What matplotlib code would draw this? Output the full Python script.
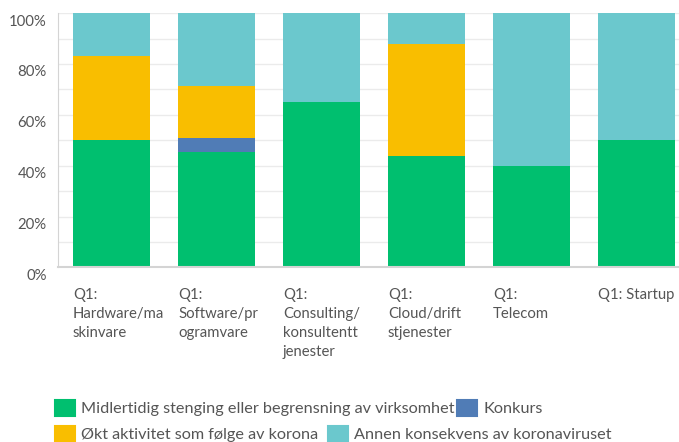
import matplotlib
matplotlib.use("Agg")
import matplotlib.pyplot as plt
import matplotlib.transforms as mtransforms
from matplotlib.patches import Patch
import numpy as np

# data (percent)
categories = [
    "Q1:\nHardware/ma\nskinvare",
    "Q1:\nSoftware/pr\nogramvare",
    "Q1:\nConsulting/\nkonsultentt\njenester",
    "Q1:\nCloud/drift\nstjenester",
    "Q1:\nTelecom",
    "Q1: Startup",
]
series_names = [
    "Midlertidig stenging eller begrensning av virksomhet",
    "Konkurs",
    "Økt aktivitet som følge av korona",
    "Annen konsekvens av koronaviruset",
]
midlertidig = [50.0, 45.5, 65.0, 44.0, 40.0, 50.0]
konkurs = [0.0, 5.5, 0.0, 0.0, 0.0, 0.0]
okt_aktivitet = [33.3, 20.5, 0.0, 44.0, 0.0, 0.0]
annen = [16.7, 28.5, 35.0, 12.0, 60.0, 50.0]
colors = ["#00BF6F", "#507CB6", "#F9BE00", "#6BC8CD"]

plt.rcParams["font.family"] = ["Lato", "DejaVu Sans"]
text_col = "#555555"

fig = plt.figure(figsize=(6.79, 4.42), dpi=100)
ax = fig.add_axes([0.085, 0.395, 0.915, 0.5754])

x = np.arange(len(categories))
width = 0.733
bottom = np.zeros(len(categories))
for vals, col in zip([midlertidig, konkurs, okt_aktivitet, annen], colors):
    vals = np.array(vals)
    ax.bar(x, vals, width, bottom=bottom, color=col, zorder=2)
    bottom += vals

ax.set_xlim(-0.512, 5.405)
ax.set_ylim(0, 100)
ax.set_yticks(np.arange(0, 101, 10), minor=True)
ax.set_yticks(np.arange(0, 101, 20))
ax.set_yticklabels([f"{v}%" for v in range(0, 101, 20)], fontsize=10.7, color=text_col)
ax.grid(axis="y", which="both", color="#ebebeb", linewidth=1, zorder=0)
ax.tick_params(axis="y", which="both", length=0, pad=8)
# y labels sit a little below their grid line
shift = mtransforms.ScaledTranslation(0, -7 / 100, fig.dpi_scale_trans)
for lab in ax.get_yticklabels():
    lab.set_transform(lab.get_transform() + shift)

ax.set_xticks(x - width / 2)
ax.set_xticklabels(categories, fontsize=10.7, color=text_col, ha="left",
                   va="top", linespacing=1.45)
ax.tick_params(axis="x", length=0, pad=15)

for s in ["top", "right"]:
    ax.spines[s].set_visible(False)
ax.spines["left"].set_color("#d4d4d4")
ax.spines["bottom"].set_color("#d4d4d4")
ax.spines["bottom"].set_linewidth(1.5)

# legend, two flowing rows
leg_kw = dict(frameon=False, ncol=2, fontsize=11.7, handlelength=1.23,
              handleheight=1.23, handletextpad=0.37,
              borderpad=0, borderaxespad=0, labelcolor=text_col)
h = [Patch(facecolor=c, edgecolor=c, linewidth=1.5, joinstyle="round") for c in colors]
fig.legend(h[:2], series_names[:2], loc="center left", columnspacing=0.18,
           bbox_to_anchor=(55 / 679, 1 - 408 / 442), **leg_kw)
fig.legend(h[2:], series_names[2:], loc="center left", columnspacing=0.6,
           bbox_to_anchor=(55 / 679, 1 - 434 / 442), **leg_kw)

fig.savefig("out.png", dpi=100)
